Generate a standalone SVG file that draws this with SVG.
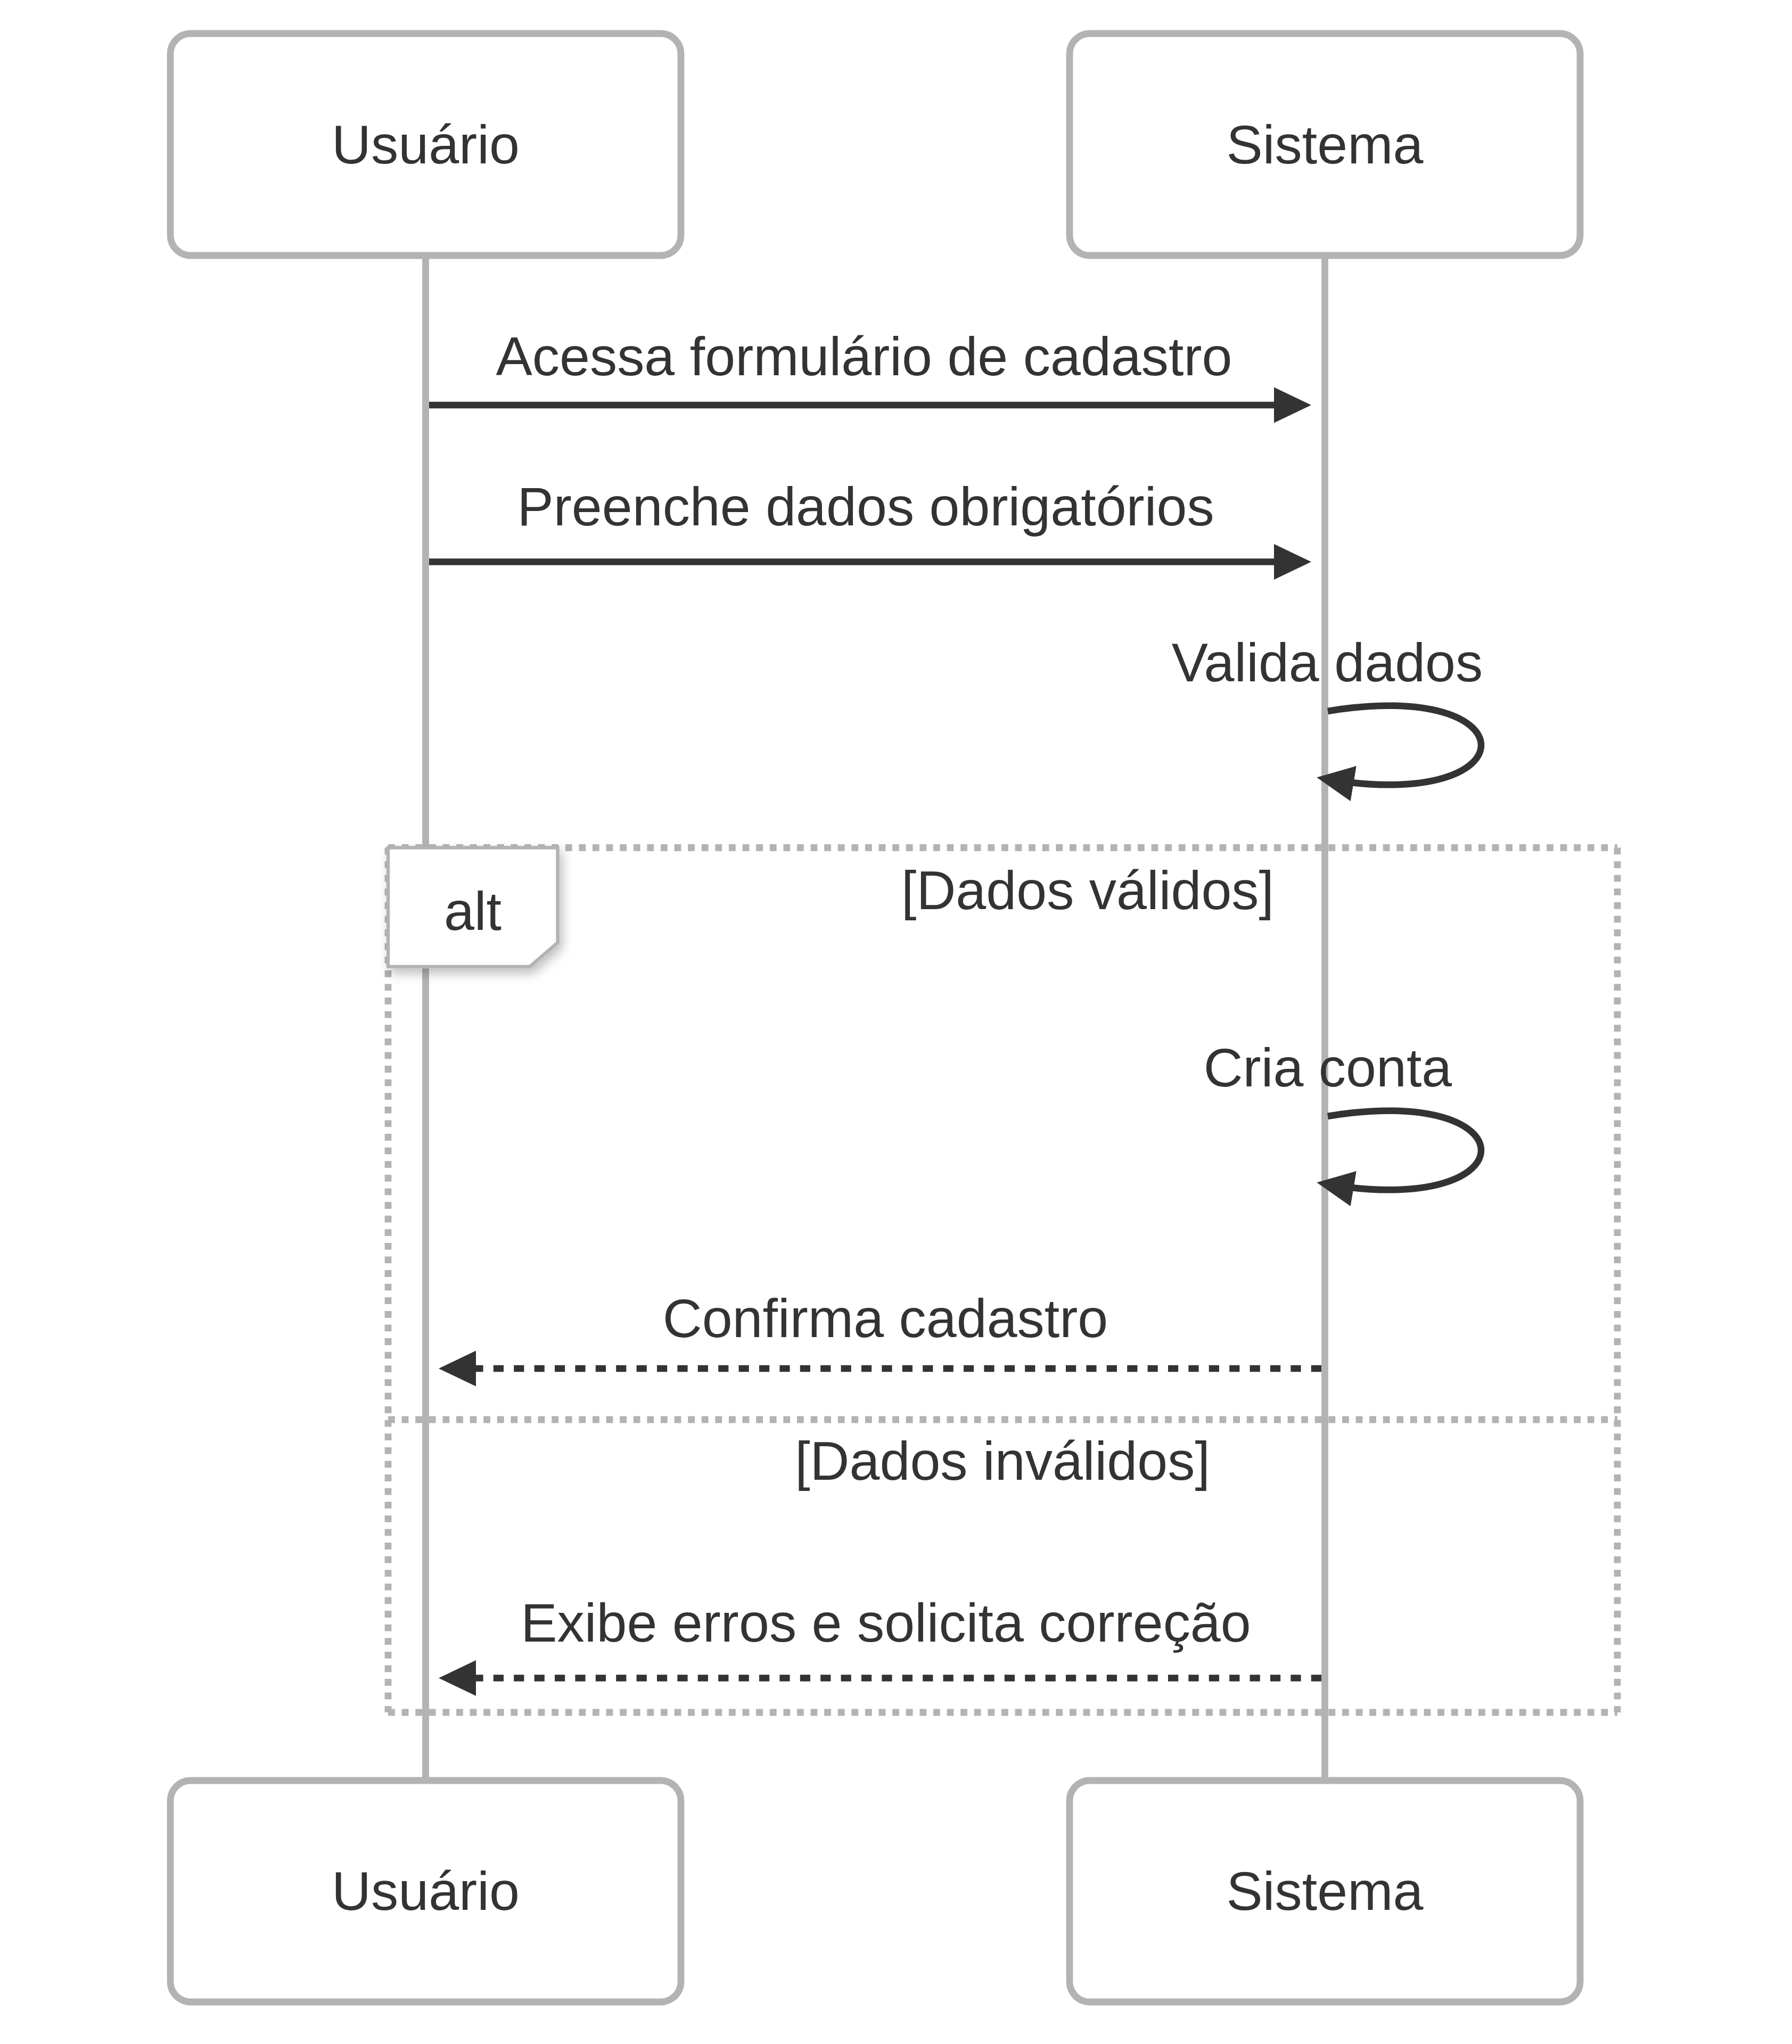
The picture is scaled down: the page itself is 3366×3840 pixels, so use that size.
<svg xmlns="http://www.w3.org/2000/svg" width="3366" height="3840" viewBox="0 0 3366 3840">
<style>
.actor{fill:#ffffff;stroke:#b3b3b3;stroke-width:12.8}
.atext{font-family:"Liberation Sans",Arial,sans-serif;font-size:102.4px;fill:#333333;text-anchor:middle}
.life{stroke:#b3b3b3;stroke-width:12.8}
.msg{stroke:#333333;stroke-width:12.5;fill:none}
.dash{stroke-dasharray:19.2 19.2}
.mtext{font-family:"Liberation Sans",Arial,sans-serif;font-size:102.4px;fill:#333333;text-anchor:middle}
.loop{stroke:#b3b3b3;stroke-width:12.8;stroke-dasharray:12.8 12.8;fill:none}
.lbox{fill:#ffffff;stroke:#b3b3b3;stroke-width:6.4}
</style>
<defs>
<marker id="arrow" viewBox="0 0 10 10" refX="7" refY="5" markerUnits="userSpaceOnUse" markerWidth="70" markerHeight="67" preserveAspectRatio="none" orient="auto">
<path d="M0,0 L10,5 L0,10 z" fill="#333333" stroke="none"/>
</marker>
<filter id="shadow" x="-20%" y="-20%" width="150%" height="150%">
<feDropShadow dx="6" dy="10" stdDeviation="10" flood-color="#000000" flood-opacity="0.25"/>
</filter>
</defs>
<rect x="0" y="0" width="3366" height="3840" fill="#ffffff"/>
<g id="lifelines">
<line class="life" x1="799.5" y1="486" x2="799.5" y2="3339"/>
<line class="life" x1="2488.5" y1="486" x2="2488.5" y2="3339"/>
</g>
<g id="connectors">
<text class="mtext" x="1623" y="705">Acessa formulário de cadastro</text>
<line class="msg" x1="806" y1="761" x2="2442" y2="761" marker-end="url(#arrow)"/>
<text class="mtext" x="1626" y="987">Preenche dados obrigatórios</text>
<line class="msg" x1="806" y1="1055.5" x2="2442" y2="1055.5" marker-end="url(#arrow)"/>
<text class="mtext" x="2493" y="1280">Valida dados</text>
<path class="msg" d="M2494,1336 C2878,1272 2878,1528 2494,1464" marker-end="url(#arrow)"/>
<text class="mtext" x="2494" y="2041">Cria conta</text>
<path class="msg" d="M2494,2097 C2878,2033 2878,2289 2494,2225" marker-end="url(#arrow)"/>
<text class="mtext" x="1663" y="2512">Confirma cadastro</text>
<line class="msg dash" x1="2482" y1="2571" x2="845" y2="2571" marker-end="url(#arrow)"/>
<text class="mtext" x="1664" y="3084">Exibe erros e solicita correção</text>
<line class="msg dash" x1="2482" y1="3152.5" x2="845" y2="3152.5" marker-end="url(#arrow)"/>
</g>
<g id="alt-frame">
<line class="loop" x1="729" y1="1592.5" x2="3038" y2="1592.5"/>
<line class="loop" x1="3038" y1="1592.5" x2="3038" y2="3217"/>
<line class="loop" x1="729" y1="3217" x2="3038" y2="3217"/>
<line class="loop" x1="729" y1="1592.5" x2="729" y2="3217"/>
<line class="loop" x1="729" y1="2667" x2="3038" y2="2667"/>
<polygon class="lbox" filter="url(#shadow)" points="729,1592.5 1047.5,1592.5 1047.5,1771 995,1816 729,1816"/>
<text class="atext" x="888" y="1747">alt</text>
<text class="mtext" x="2043" y="1707.7">[Dados válidos]</text>
<text class="mtext" x="1883" y="2780">[Dados inválidos]</text>
</g>
<g id="actor-usuario-top">
<rect class="actor" x="320" y="63" width="959" height="417" rx="38" ry="38"/>
<text class="atext" x="799.5" y="307">Usuário</text>
</g>
<g id="actor-sistema-top">
<rect class="actor" x="2009" y="63" width="959" height="417" rx="38" ry="38"/>
<text class="atext" x="2488.5" y="307">Sistema</text>
</g>
<g id="actor-usuario-bottom">
<rect class="actor" x="320" y="3345" width="959" height="416" rx="38" ry="38"/>
<text class="atext" x="799.5" y="3588">Usuário</text>
</g>
<g id="actor-sistema-bottom">
<rect class="actor" x="2009" y="3345" width="959" height="416" rx="38" ry="38"/>
<text class="atext" x="2488.5" y="3588">Sistema</text>
</g>
</svg>
